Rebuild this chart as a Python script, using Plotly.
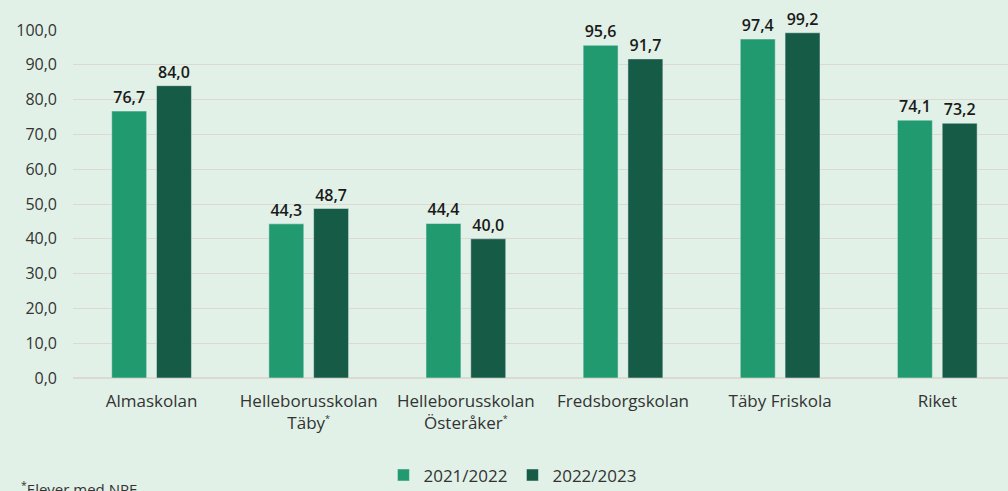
import plotly.graph_objects as go

LIGHT_COLOR = "#229A6F"
DARK_COLOR = "#155B46"
BG_COLOR = "#E1F1E7"
GRID_COLOR = "#DDD9D0"
TEXT_COLOR = "#333333"
FONT = "Open Sans, Noto Sans, sans-serif"
STAR = "<sup><span style='font-size:9px'>*</span></sup>"

# DATA
schools = [
    "Almaskolan",
    "Helleborusskolan<br>Täby" + STAR,
    "Helleborusskolan<br>Österåker" + STAR,
    "Fredsborgskolan",
    "Täby Friskola",
    "Riket",
]
values_2122 = [76.7, 44.3, 44.4, 95.6, 97.4, 74.1]
values_2223 = [84.0, 48.7, 40.0, 91.7, 99.2, 73.2]
y_ticks = [0, 10, 20, 30, 40, 50, 60, 70, 80, 90, 100]
y_tick_labels = [f"{v:.1f}".replace(".", ",") for v in y_ticks]


def fmt(values):
    return [f"{v:.1f}".replace(".", ",") for v in values]


fig = go.Figure()

# 2021/2022
fig.add_trace(
    go.Bar(
        x=schools,
        y=values_2122,
        name="2021/2022",
        marker_color=LIGHT_COLOR,
        text=fmt(values_2122),
        textposition="outside",
        cliponaxis=False,
        textfont=dict(color="#1a1a1a", size=16, family=FONT, weight=600)
    )
)

# 2022/2023
fig.add_trace(
    go.Bar(
        x=schools,
        y=values_2223,
        name="2022/2023",
        marker_color=DARK_COLOR,
        text=fmt(values_2223),
        textposition="outside",
        cliponaxis=False,
        textfont=dict(color="#1a1a1a", size=16, family=FONT, weight=600)
    )
)

fig.update_layout(
    width=1008,
    height=491,
    barmode="group",
    bargap=0.43,
    bargroupgap=0.22,
    paper_bgcolor=BG_COLOR,
    plot_bgcolor=BG_COLOR,
    font=dict(family=FONT, color=TEXT_COLOR, size=16),
    margin=dict(l=73, r=0, t=30, b=113, autoexpand=False),
    legend=dict(
        orientation="h",
        x=0.47,
        xanchor="center",
        y=-0.28,
        yanchor="middle",
        font=dict(size=17),
        itemwidth=30,
        bgcolor="rgba(0,0,0,0)"
    ),
    annotations=[
        dict(
            text="<sup>*</sup>Elever med NPF",
            xref="paper",
            yref="paper",
            x=-0.058,
            y=-0.318,
            xanchor="left",
            yanchor="middle",
            showarrow=False,
            font=dict(size=15, color=TEXT_COLOR)
        )
    ]
)

fig.update_xaxes(
    range=[-0.5, 5.45],
    automargin=False,
    showgrid=False,
    showline=False,
    ticks="",
    ticklabelstandoff=11,
    tickfont=dict(size=17)
)

fig.update_yaxes(
    range=[0, 100],
    automargin=False,
    tickvals=y_ticks,
    ticktext=y_tick_labels,
    showgrid=True,
    gridcolor=GRID_COLOR,
    gridwidth=1,
    zeroline=True,
    zerolinecolor=GRID_COLOR,
    ticks="",
    ticklabelstandoff=15,
    tickfont=dict(size=16)
)

fig.write_html(
    "out.html",
    config={"displayModeBar": False},
    post_script="document.body.style.margin='0';"
)
